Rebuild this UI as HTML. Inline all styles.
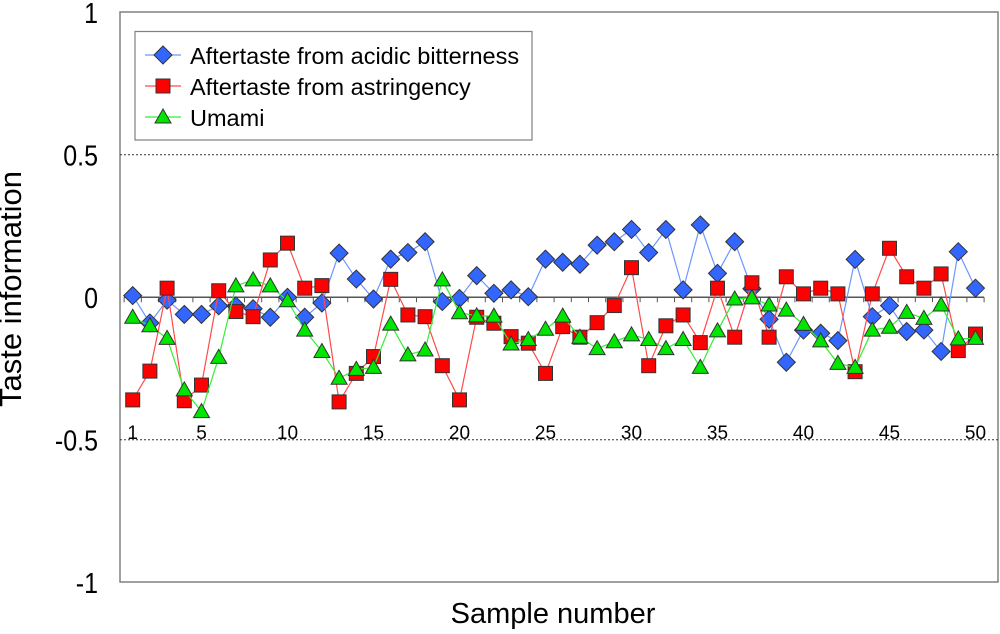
<!DOCTYPE html>
<html><head><meta charset="utf-8"><style>
html,body{margin:0;padding:0;background:#fff;width:1000px;height:634px;overflow:hidden}
svg{display:block;font-family:"Liberation Sans",Arial,sans-serif}
</style></head><body>
<svg id="chart" width="1000" height="634" viewBox="0 0 1000 634">
<rect x="120" y="12" width="878" height="570" fill="#fff" stroke="#808080" stroke-width="1.5"/>
<g id="grid"></g>
<g id="axis"></g>
<g id="series"></g>
<text x="13" y="289" transform="rotate(-90 13 289)" text-anchor="middle" dominant-baseline="middle" font-size="31">Taste information</text>
<text x="553" y="623" text-anchor="middle" font-size="29">Sample number</text>
<g>
<rect x="135" y="31.5" width="397" height="108.5" fill="#fff" stroke="#808080" stroke-width="1.2"/>
<g id="legend"></g>
</g>
</svg>
<script>
const categories = Array.from({length:50},(_,i)=>i+1);
const yTicks = [1,0.5,0,-0.5,-1];
const yTickLabels = ["1","0.5","0","-0.5","-1"];
const xLabelCats = [1,5,10,15,20,25,30,35,40,45,50];
const seriesNames = ["Aftertaste from acidic bitterness","Aftertaste from astringency","Umami"];
const acidic = [0.006,-0.09,-0.01,-0.06,-0.06,-0.03,-0.03,-0.04,-0.07,0.0,-0.07,-0.02,0.155,0.064,-0.006,0.134,0.157,0.195,-0.015,-0.004,0.076,0.014,0.026,0.002,0.134,0.123,0.116,0.183,0.195,0.238,0.157,0.238,0.026,0.254,0.084,0.195,0.03,-0.077,-0.228,-0.115,-0.126,-0.152,0.133,-0.068,-0.029,-0.12,-0.115,-0.19,0.16,0.032];
const astringency = [-0.36,-0.259,0.032,-0.363,-0.308,0.023,-0.05,-0.068,0.131,0.19,0.032,0.041,-0.367,-0.267,-0.208,0.063,-0.062,-0.068,-0.24,-0.36,-0.07,-0.091,-0.138,-0.161,-0.267,-0.103,-0.14,-0.089,-0.029,0.104,-0.24,-0.1,-0.062,-0.159,0.032,-0.14,0.051,-0.14,0.072,0.012,0.032,0.012,-0.261,0.012,0.172,0.072,0.032,0.082,-0.187,-0.129];
const umami = [-0.07,-0.1,-0.144,-0.325,-0.401,-0.211,0.04,0.061,0.04,-0.012,-0.115,-0.19,-0.284,-0.253,-0.246,-0.094,-0.202,-0.185,0.061,-0.054,-0.065,-0.066,-0.164,-0.148,-0.112,-0.066,-0.14,-0.18,-0.156,-0.132,-0.148,-0.18,-0.148,-0.246,-0.118,-0.006,-0.002,-0.027,-0.045,-0.095,-0.153,-0.232,-0.246,-0.115,-0.105,-0.053,-0.074,-0.027,-0.146,-0.144];

const NS="http://www.w3.org/2000/svg";
const X0=124.1, BAND=17.2;
function xPos(c){return X0+BAND*(c-0.5);}
function yPos(v){return 297.3-285*v;}
function mk(tag,attrs,parent){const e=document.createElementNS(NS,tag);for(const k in attrs)e.setAttribute(k,attrs[k]);parent.appendChild(e);return e;}

const grid=document.getElementById('grid');
yTicks.forEach((t,i)=>{
  if(t===0.5||t===-0.5){
    const l=mk('line',{x1:120,x2:998,y1:yPos(t),y2:yPos(t),stroke:'#333','stroke-width':1,'stroke-dasharray':'2,2'},grid);
    
    
  }
  const yy=yPos(t)+3;
  const tx=mk('text',{x:98,y:yy,'text-anchor':'end','font-size':25,'dominant-baseline':'middle',transform:`translate(0 ${yy}) scale(1 1.15) translate(0 ${-yy})`},grid);
  tx.textContent=yTickLabels[i];
  
  
});
const axis=document.getElementById('axis');
const zl=mk('line',{x1:X0,x2:X0+BAND*50,y1:yPos(0),y2:yPos(0),stroke:'#555','stroke-width':1.5},axis);


for(let i=0;i<=50;i++){
  const tk=mk('line',{x1:X0+BAND*i,x2:X0+BAND*i,y1:yPos(0),y2:yPos(0)+5,stroke:'#555','stroke-width':1},axis);
  
  
}
xLabelCats.forEach(c=>{
  const t=mk('text',{x:xPos(c),y:439,'text-anchor':'middle','font-size':19},axis);
  t.textContent=String(c);
  
  
});

const styles=[
 {data:acidic,line:'#6c96ff',fill:'#3366ff',shape:'diamond'},
 {data:astringency,line:'#ff4a4a',fill:'#ff0000',shape:'square'},
 {data:umami,line:'#33ee33',fill:'#00e600',shape:'triangle'}
];
function marker(shape,x,y,fill,parent){
  let e;
  if(shape==='diamond') e=mk('polygon',{points:`${x},${y-9} ${x+9},${y} ${x},${y+9} ${x-9},${y}`},parent);
  else if(shape==='square') e=mk('rect',{x:x-7,y:y-7,width:14,height:14},parent);
  else e=mk('polygon',{points:`${x},${y-8} ${x+8},${y+6} ${x-8},${y+6}`},parent);
  e.setAttribute('fill',fill);e.setAttribute('stroke','#333');e.setAttribute('stroke-width','1');
  return e;
}
const sg=document.getElementById('series');
styles.forEach((s,si)=>{
  const g=mk('g',{},sg);
  
  
  const pts=s.data.map((v,i)=>xPos(categories[i])+','+yPos(v)).join(' ');
  const pl=mk('polyline',{points:pts,fill:'none',stroke:s.line,'stroke-width':1.2},g);
  
  
  s.data.forEach((v,i)=>{
    const m=marker(s.shape,xPos(categories[i]),yPos(v),s.fill,g);
    
    
  });
});
const lg=document.getElementById('legend');
styles.forEach((s,i)=>{
  const y=55+31*i;
  const g=mk('g',{},lg);
  
  
  mk('line',{x1:145,x2:181,y1:y,y2:y,stroke:s.line,'stroke-width':1.2},g);
  marker(s.shape,163,y,s.fill,g);
  const t=mk('text',{x:190,y:y+9,'font-size':23.5},g);
  t.textContent=seriesNames[i];
});
</script>
</body></html>
